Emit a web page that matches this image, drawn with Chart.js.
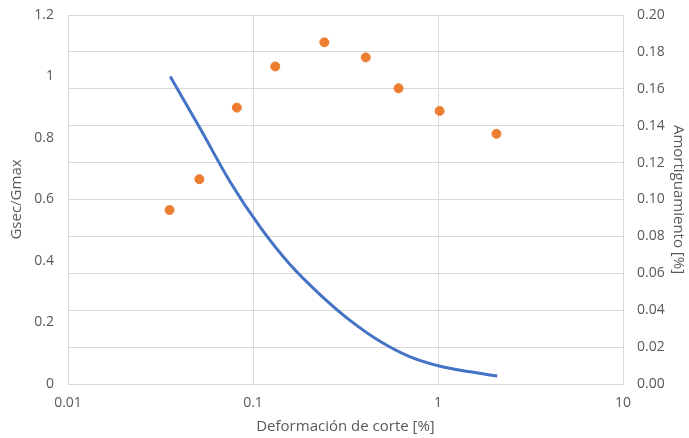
<!DOCTYPE html>
<html>
<head>
<meta charset="utf-8">
<script src="https://cdn.jsdelivr.net/npm/chart.js@4"></script>
<style>
  html, body { margin: 0; padding: 0; background: #fff; }
  #wrap { width: 689px; height: 438px; }
</style>
</head>
<body>
<div id="wrap"><canvas id="chart" width="689" height="438"></canvas></div>
<script>
// curva Gsec/Gmax vs deformación de corte [%]
const strainCurve = [0.0357, 0.052, 0.0753, 0.1094, 0.159, 0.231, 0.336, 0.488, 0.708, 1.028, 1.495, 2.09];
const gRatio = [1.0, 0.829, 0.657, 0.51, 0.3875, 0.29, 0.206, 0.138, 0.088, 0.0575, 0.0395, 0.026];

// amortiguamiento
const strainPts = [0.0354, 0.0513, 0.0818, 0.132, 0.243, 0.407, 0.612, 1.02, 2.07];
const damping = [0.0943, 0.111, 0.1498, 0.1721, 0.1852, 0.177, 0.1603, 0.148, 0.1356];

const xTicks = [0.01, 0.1, 1, 10];
const leftTicks = [0, 0.2, 0.4, 0.6, 0.8, 1, 1.2];
const rightTicks = [0, 0.02, 0.04, 0.06, 0.08, 0.10, 0.12, 0.14, 0.16, 0.18, 0.20];

const font = { family: '"Open Sans", sans-serif', size: 14 };
const titleFont = { family: '"Open Sans", sans-serif', size: 15 };
const textColor = '#595959';
const gridColor = '#d9d9d9';

// el area del grafico la fija el padding, no las etiquetas
function fitVertical(width) {
    return axis => {
        axis.width = width;
        axis.paddingTop = 0;
        axis.paddingBottom = 0;
    };
}

const ctx = document.getElementById('chart').getContext('2d');
new Chart(ctx, {
    type: 'scatter',
    data: {
        datasets: [
            {
                label: 'Gsec/Gmax',
                data: strainCurve.map((x, i) => ({ x: x, y: gRatio[i] })),
                yAxisID: 'y',
                showLine: true,
                borderColor: '#4472C4',
                borderWidth: 3,
                pointRadius: 0,
                cubicInterpolationMode: 'monotone',
                order: 2
            },
            {
                label: 'Amortiguamiento',
                data: strainPts.map((x, i) => ({ x: x, y: damping[i] })),
                yAxisID: 'y2',
                showLine: false,
                backgroundColor: '#ED7D31',
                borderColor: '#ED7D31',
                pointRadius: 4.5,
                order: 1
            }
        ]
    },
    options: {
        responsive: false,
        animation: false,
        layout: { padding: { top: 15, left: 8, right: 0, bottom: 2 } },
        plugins: {
            legend: { display: false },
            tooltip: { enabled: false }
        },
        scales: {
            x: {
                type: 'logarithmic',
                min: 0.01,
                max: 10,
                afterBuildTicks: axis => { axis.ticks = xTicks.map(v => ({ value: v })); },
                afterFit: axis => { axis.height = 52; },
                ticks: {
                    color: textColor,
                    font: font,
                    padding: 11,
                    maxRotation: 0,
                    callback: v => String(v)
                },
                grid: { color: gridColor, drawTicks: false },
                border: { color: gridColor },
                title: {
                    display: true,
                    text: 'Deformación de corte [%]',
                    color: textColor,
                    font: titleFont,
                    padding: { top: 0, bottom: 0 }
                }
            },
            y: {
                position: 'left',
                min: 0,
                max: 1.2,
                afterBuildTicks: axis => { axis.ticks = leftTicks.map(v => ({ value: v })); },
                afterFit: fitVertical(60),
                ticks: {
                    color: textColor,
                    font: font,
                    padding: 14,
                    callback: v => String(Math.round(v * 10) / 10)
                },
                grid: { display: false, drawTicks: false },
                border: { display: false },
                title: {
                    display: true,
                    text: 'Gsec/Gmax',
                    color: textColor,
                    font: titleFont,
                    padding: { top: 0, bottom: 2 }
                }
            },
            y2: {
                position: 'right',
                min: 0,
                max: 0.2,
                afterBuildTicks: axis => { axis.ticks = rightTicks.map(v => ({ value: v })); },
                afterFit: fitVertical(66),
                ticks: {
                    color: textColor,
                    font: font,
                    padding: 14,
                    callback: v => v.toFixed(2)
                },
                grid: { color: gridColor, drawTicks: false },
                border: { display: false },
                title: {
                    display: true,
                    text: 'Amortiguamiento [%]',
                    color: textColor,
                    font: titleFont,
                    padding: { top: 2, bottom: 0 }
                }
            }
        }
    }
});
</script>
</body>
</html>
